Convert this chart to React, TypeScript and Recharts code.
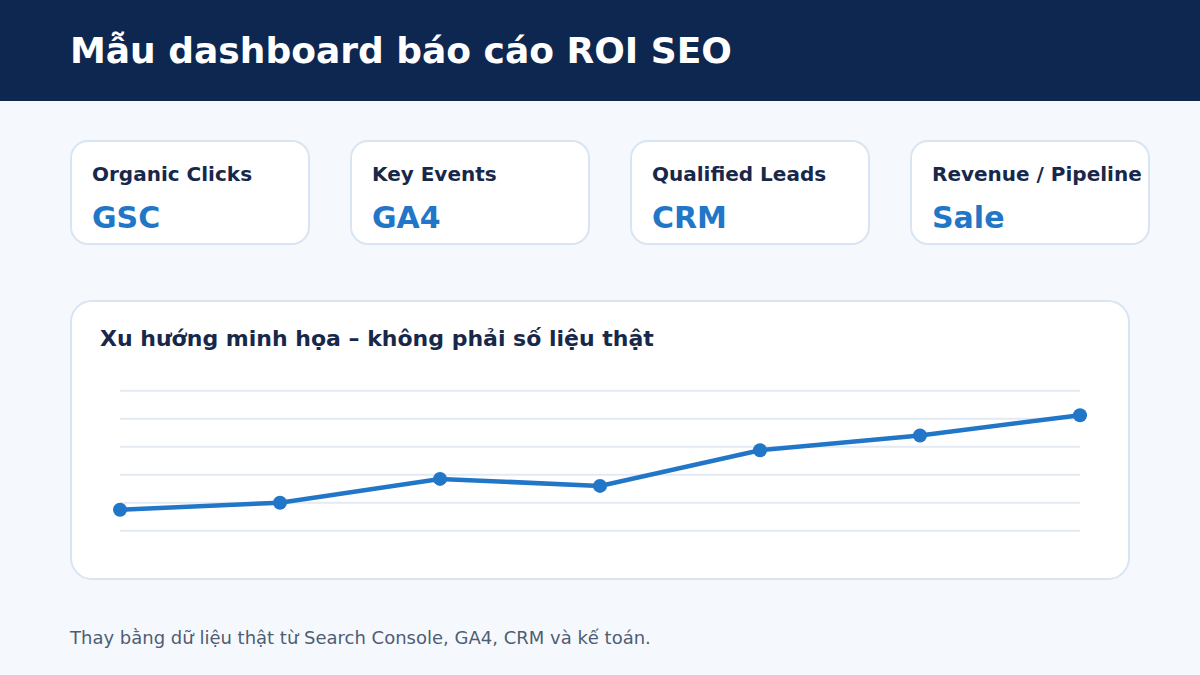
import React from 'react';
import { LineChart, Line, XAxis, YAxis, CartesianGrid } from 'recharts';

const periods = ['T1', 'T2', 'T3', 'T4', 'T5', 'T6', 'T7'];
const trendValues = [15, 20, 37, 32, 57.5, 68, 82.5];
const gridTicks = [0, 20, 40, 60, 80, 100];

const cardLabels = ['Organic Clicks', 'Key Events', 'Qualified Leads', 'Revenue / Pipeline'];
const cardSources = ['GSC', 'GA4', 'CRM', 'Sale'];

const data = periods.map((name, i) => ({ name, value: trendValues[i] }));

const FONT = '"DejaVu Sans", Verdana, sans-serif';
const BLUE = '#2176c7';
const INK = '#18284a';
const BORDER = '#d9e5f3';

function Card({ label, source, left }: { label: string; source: string; left: number }) {
  return (
    <div style={{ position: 'absolute', left, top: 140, width: 240, height: 105, boxSizing: 'border-box', background: '#fff', border: `2px solid ${BORDER}`, borderRadius: 18 }}>
      <div style={{ position: 'absolute', left: 20, top: 20, fontSize: 20, fontWeight: 700, color: INK, whiteSpace: 'nowrap' }}>{label}</div>
      <div style={{ position: 'absolute', left: 20, top: 58, fontSize: 30, fontWeight: 700, color: BLUE }}>{source}</div>
    </div>
  );
}

export default function App() {
  return (
    <div style={{ position: 'absolute', left: 0, top: 0, width: 1200, height: 675, background: '#f5f9fd', fontFamily: FONT, overflow: 'hidden' }}>
      <div style={{ position: 'absolute', left: 0, top: 0, width: 1200, height: 101, background: '#0e2750' }}>
        <div style={{ position: 'absolute', left: 70, top: 30, fontSize: 36, fontWeight: 700, color: '#fff', whiteSpace: 'nowrap' }}>Mẫu dashboard báo cáo ROI SEO</div>
      </div>

      {cardLabels.map((label, i) => (
        <Card key={label} label={label} source={cardSources[i]} left={70 + i * 280} />
      ))}

      <div style={{ position: 'absolute', left: 70, top: 300, width: 1060, height: 280, boxSizing: 'border-box', background: '#fff', border: `2px solid ${BORDER}`, borderRadius: 22 }}>
        <div style={{ position: 'absolute', left: 28, top: 24, fontSize: 22, fontWeight: 700, color: INK, whiteSpace: 'nowrap' }}>Xu hướng minh họa – không phải số liệu thật</div>
      </div>

      <div style={{ position: 'absolute', left: 100, top: 370 }}>
        <LineChart width={1000} height={180} data={data} margin={{ top: 20.7, right: 20, left: 20, bottom: 19.3 }}>
          <CartesianGrid vertical={false} stroke="#e3eaf3" strokeWidth={2} />
          <XAxis dataKey="name" hide padding={{ left: 0, right: 0 }} />
          <YAxis hide domain={[0, 100]} ticks={gridTicks} />
          <Line type="linear" dataKey="value" stroke={BLUE} strokeWidth={4.5} dot={{ r: 7, fill: BLUE, stroke: BLUE, strokeWidth: 0 }} activeDot={false} isAnimationActive={false} />
        </LineChart>
      </div>

      <div style={{ position: 'absolute', left: 70, top: 627, fontSize: 18, color: '#4f5d73', whiteSpace: 'nowrap' }}>Thay bằng dữ liệu thật từ Search Console, GA4, CRM và kế toán.</div>
    </div>
  );
}
